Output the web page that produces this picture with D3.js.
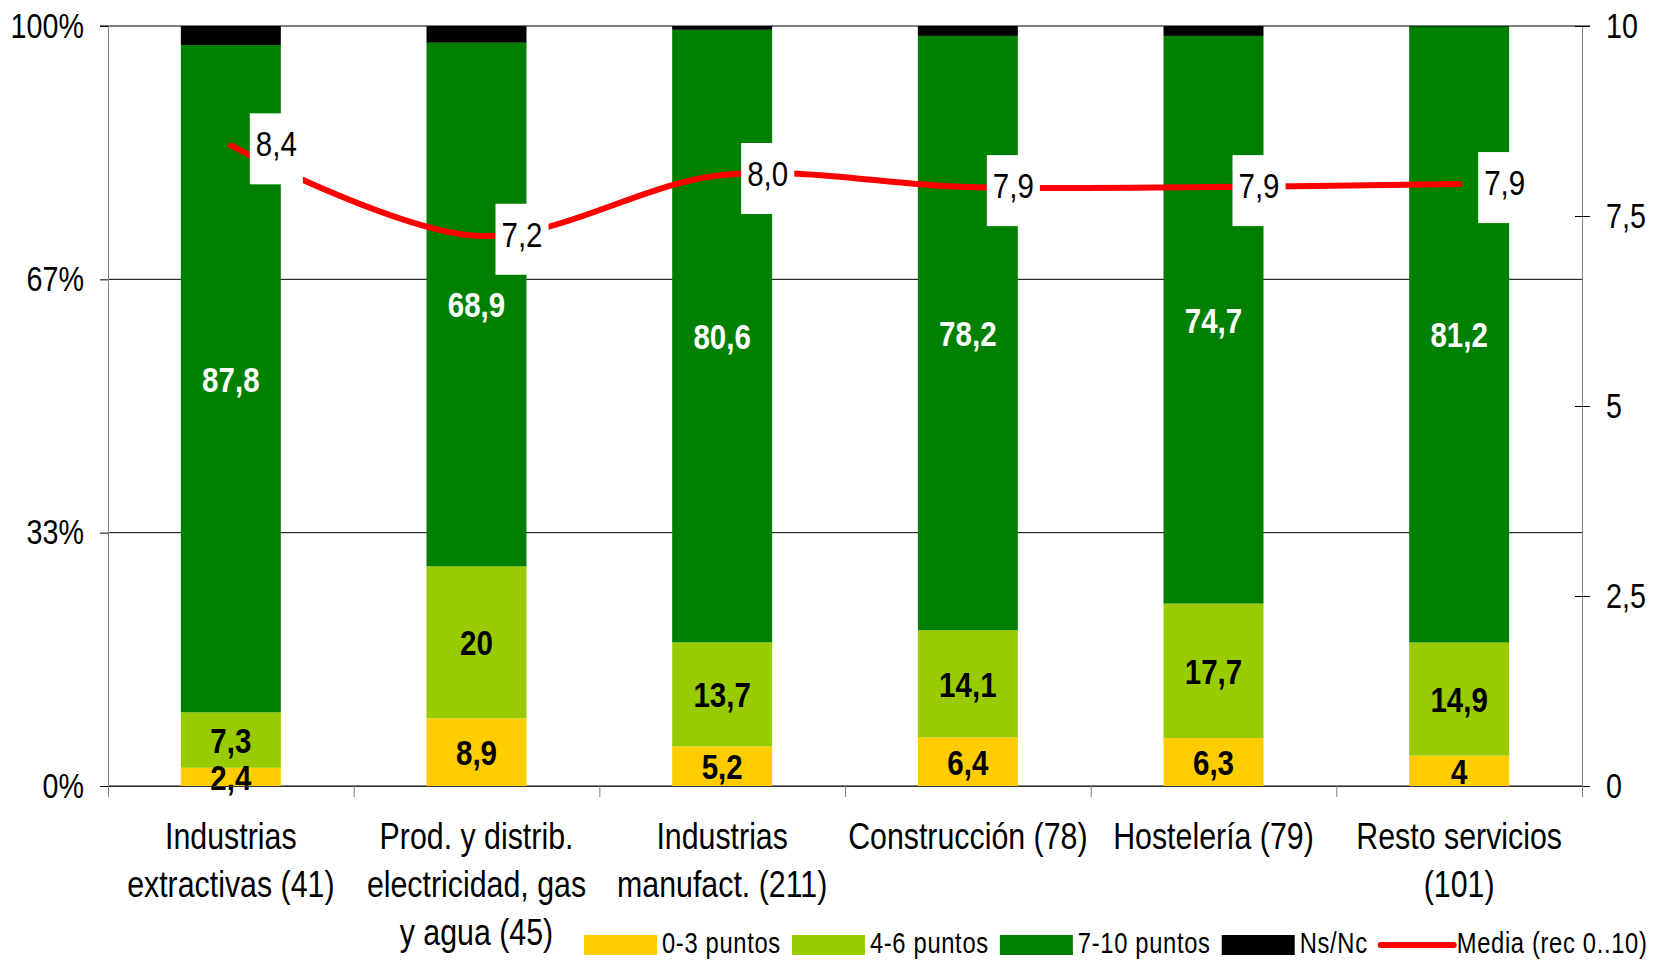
<!DOCTYPE html>
<html>
<head>
<meta charset="utf-8">
<script src="https://cdn.jsdelivr.net/npm/d3@7"></script>
<style>
  html, body { margin: 0; padding: 0; background: #fff; }
  svg { display: block; }
</style>
</head>
<body>
<svg id="chart" width="1666" height="960"></svg>
<script>
// ---------------- DATA ----------------
const categories = [
  ["Industrias", "extractivas (41)"],
  ["Prod. y distrib.", "electricidad, gas", "y agua (45)"],
  ["Industrias", "manufact. (211)"],
  ["Construcción (78)"],
  ["Hostelería (79)"],
  ["Resto servicios", "(101)"]
];
const seriesNames = ["0-3 puntos", "4-6 puntos", "7-10 puntos", "Ns/Nc"];
const mediaName = "Media (rec 0..10)";
const seg03  = [2.4, 8.9, 5.2, 6.4, 6.3, 4];
const seg46  = [7.3, 20, 13.7, 14.1, 17.7, 14.9];
const seg710 = [87.8, 68.9, 80.6, 78.2, 74.7, 81.2];
const nsnc   = [2.5, 2.2, 0.5, 1.3, 1.3, 0];
const media  = [8.43, 7.24, 8.04, 7.88, 7.88, 7.92];
const leftTicks = [0, 1/3, 2/3, 1];
const leftTickLabels = ["0%", "33%", "67%", "100%"];
const rightTicks = [0, 2.5, 5, 7.5, 10];

// ---------------- STYLE ----------------
const colors = ["#FFCC00", "#99CC00", "#008000", "#000000"];
const labelColors = ["#000", "#000", "#fff", null];
const lineColor = "#FF0000";

function hasFont(name) {
  const c = document.createElement("canvas").getContext("2d");
  const t = "Construcción 0123 mmmWWWiii";
  c.font = "40px monospace";
  const a = c.measureText(t).width;
  c.font = `40px '${name}', monospace`;
  const b = c.measureText(t).width;
  return Math.abs(a - b) > 0.5;
}
const narrow = hasFont("Liberation Sans Narrow");
const FONT = narrow ? "'Liberation Sans Narrow', 'Liberation Sans', Arial, sans-serif"
                    : "'Liberation Sans', Arial, sans-serif";
const SX = narrow ? 1 : 0.82;

const W = 1666, H = 960;
const L = 108, R = 1582, T = 26, B = 786;

const svg = d3.select("#chart").attr("font-family", FONT);

// scales
const x = d3.scaleBand().domain(d3.range(categories.length)).range([L, R]).padding(0);
const xb = d3.scaleLinear().domain([0, categories.length]).range([L, R]);
const y = d3.scaleLinear().domain([0, 1]).range([B, T]);
const y2 = d3.scaleLinear().domain([0, 10]).range([B, T]);
const barW = x.bandwidth() * 0.407;

// stack data
const rows = categories.map((c, i) => ({ i, s0: seg03[i], s1: seg46[i], s2: seg710[i], s3: nsnc[i] }));
const keys = ["s0", "s1", "s2", "s3"];
const stacked = d3.stack().keys(keys).offset(d3.stackOffsetExpand)(rows);
const rawVals = [seg03, seg46, seg710, nsnc];

// gridlines (below bars)
svg.append("g").selectAll("line").data(leftTicks.filter(d => d < 1)).join("line")
  .attr("x1", L).attr("x2", R)
  .attr("y1", d => y(d)).attr("y2", d => y(d))
  .attr("stroke", "#000").attr("stroke-width", 1);

// bars
const gBars = svg.append("g");
stacked.forEach((layer, k) => {
  gBars.append("g").attr("fill", colors[k]).selectAll("rect").data(layer).join("rect")
    .attr("x", d => x(d.data.i) + (x.bandwidth() - barW) / 2)
    .attr("width", barW)
    .attr("y", d => y(d[1]))
    .attr("height", d => Math.max(0, y(d[0]) - y(d[1])));
});

// top gridline (above bars)
svg.append("line").attr("x1", L - 8).attr("x2", R + 8)
  .attr("y1", y(1)).attr("y2", y(1)).attr("stroke", "#000").attr("stroke-width", 1.2);

// bar value labels
const fmtComma = v => String(v).replace(".", ",");
const gLab = svg.append("g").attr("font-weight", "bold").attr("font-size", 36).attr("text-anchor", "middle");
stacked.forEach((layer, k) => {
  if (!labelColors[k]) return;
  gLab.append("g").attr("fill", labelColors[k]).selectAll("text").data(layer).join("text")
    .attr("x", d => x(d.data.i) + x.bandwidth() / 2)
    .attr("y", d => (y(d[0]) + y(d[1])) / 2 + 36 * 0.358)
    .text(d => fmtComma(rawVals[k][d.data.i]));
});

// left axis
const axL = svg.append("g").attr("transform", `translate(${L},0)`)
  .call(d3.axisLeft(y).tickValues(leftTicks).tickFormat((d, i) => leftTickLabels[i]).tickSize(8).tickSizeOuter(0));
axL.select(".domain").attr("stroke", "#808080");
axL.selectAll(".tick line").attr("stroke", "#000");
axL.selectAll(".tick text").attr("x", -24).attr("font-size", 35).attr("font-family", FONT).attr("fill", "#000");

// right axis
const axR = svg.append("g").attr("transform", `translate(${R},0)`)
  .call(d3.axisRight(y2).tickValues(rightTicks).tickFormat(d => fmtComma(d)).tickSize(8).tickSizeOuter(0));
axR.select(".domain").attr("stroke", "#808080");
axR.selectAll(".tick line").attr("x1", -7).attr("stroke", "#000");
axR.selectAll(".tick text").attr("x", 24).attr("font-size", 35).attr("font-family", FONT).attr("fill", "#000");

// bottom axis (baseline + category boundary ticks)
const axB = svg.append("g").attr("transform", `translate(0,${B})`)
  .call(d3.axisBottom(xb).tickValues(d3.range(categories.length + 1)).tickFormat("").tickSize(11).tickSizeOuter(0));
axB.select(".domain").attr("stroke", "#333");
axB.selectAll(".tick line").attr("stroke", "#808080");

// media line
const pts = media.map((v, i) => [x(i) + x.bandwidth() / 2, y2(v)]);
svg.append("path").datum(pts)
  .attr("d", d3.line().curve(d3.curveCardinal.tension(0)))
  .attr("fill", "none").attr("stroke", lineColor).attr("stroke-width", 6)
  .attr("stroke-linecap", "round").attr("stroke-linejoin", "round");

// media labels
const fmtMed = v => d3.format(".1f")(v).replace(".", ",");
const gMed = svg.append("g");
pts.forEach((p, i) => {
  const g = gMed.append("g");
  const rect = g.append("rect").attr("fill", "#fff");
  const t = g.append("text").attr("x", p[0] + 25).attr("y", p[1] + 11)
    .attr("font-size", 36).attr("fill", "#000").text(fmtMed(media[i]));
  const w = t.node().getComputedTextLength() * SX;
  rect.attr("x", p[0] + 19).attr("y", p[1] - 32).attr("width", w + 12).attr("height", 71);
});

// category labels
const gCat = svg.append("g").attr("text-anchor", "middle").attr("font-size", 37).attr("fill", "#000");
categories.forEach((lines, i) => {
  lines.forEach((ln, j) => {
    gCat.append("text").attr("x", x(i) + x.bandwidth() / 2).attr("y", 849 + j * 48).text(ln);
  });
});

// legend
const gLeg = svg.append("g").attr("font-size", 29).attr("fill", "#000").attr("letter-spacing", 0.8);
let lx = 584;
const legItems = seriesNames.map((n, k) => ({ name: n, color: colors[k], type: "rect" }))
  .concat([{ name: mediaName, color: lineColor, type: "line" }]);
legItems.forEach(it => {
  if (it.type === "rect") {
    gLeg.append("rect").attr("x", lx).attr("y", 935).attr("width", 73).attr("height", 20).attr("fill", it.color);
  } else {
    gLeg.append("line").attr("x1", lx + 2).attr("x2", lx + 75).attr("y1", 945).attr("y2", 945)
      .attr("stroke", it.color).attr("stroke-width", 6).attr("stroke-linecap", "round");
  }
  const t = gLeg.append("text").attr("x", lx + 78).attr("y", 953).text(it.name);
  const w = t.node().getComputedTextLength() * SX;
  lx = lx + 78 + w + 11;
});

// condensed fallback when narrow font is missing
if (SX !== 1) {
  svg.selectAll("text").each(function () {
    const el = d3.select(this);
    const tx = +el.attr("x") || 0, ty = +el.attr("y") || 0;
    el.attr("transform", `translate(${tx},${ty}) scale(${SX},1) translate(${-tx},${-ty})`);
  });
}
</script>
</body>
</html>
